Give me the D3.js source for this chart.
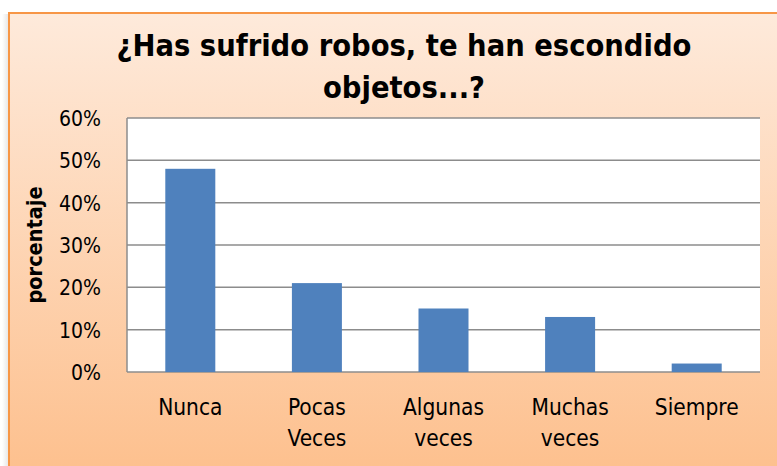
<!DOCTYPE html>
<html><head><meta charset="utf-8">
<script src="https://cdn.jsdelivr.net/npm/d3@7"></script>
<style>body{margin:0;background:#fff}svg{display:block}</style>
</head><body>
<svg id="c" width="777" height="466"></svg>
<script>
const categories = [["Nunca"], ["Pocas", "Veces"], ["Algunas", "veces"], ["Muchas", "veces"], ["Siempre"]];
const values = [0.48, 0.21, 0.15, 0.13, 0.02];
const yTicks = [0, 0.1, 0.2, 0.3, 0.4, 0.5, 0.6];
const titleLines = ["¿Has sufrido robos, te han escondido", "objetos...?"];
const yTitle = "porcentaje";

const svg = d3.select("#c");
const defs = svg.append("defs");
const g = defs.append("linearGradient").attr("id","bg").attr("x1",0).attr("y1",0).attr("x2",0).attr("y2",1);
g.append("stop").attr("offset","0%").attr("stop-color","#FEEADB");
g.append("stop").attr("offset","100%").attr("stop-color","#FDBF8C");
const sh = defs.append("linearGradient").attr("id","sh").attr("x1",0).attr("x2",1);
sh.append("stop").attr("offset","0%").attr("stop-color","#fff");
sh.append("stop").attr("offset","100%").attr("stop-color","#e4e4e4");

svg.append("rect").attr("x",2).attr("y",14).attr("width",7).attr("height",460).attr("fill","url(#sh)");
svg.append("rect").attr("x",9).attr("y",13).attr("width",780).attr("height",470)
  .attr("fill","url(#bg)").attr("stroke","#F79646").attr("stroke-width",2);

const font = "'DejaVu Sans Condensed','Open Sans',sans-serif";
const L = 127, R = 760, T = 118, B = 372;
const x = d3.scaleBand().domain(d3.range(categories.length)).range([L, R]).padding(0);
const y = d3.scaleLinear().domain([0, 0.6]).range([B, T]);

svg.append("rect").attr("x",L).attr("y",T).attr("width",R-L).attr("height",B-T).attr("fill","#fff");

svg.append("g").selectAll("line").data(yTicks).join("line")
  .attr("x1",L).attr("x2",R).attr("y1",d=>y(d)).attr("y2",d=>y(d))
  .attr("stroke","#8c8c8c").attr("stroke-width",1.5);

const bw = x.bandwidth()*0.395;
svg.append("g").selectAll("rect").data(values).join("rect")
  .attr("x",(d,i)=>x(i)+x.bandwidth()/2-bw/2).attr("width",bw)
  .attr("y",d=>y(d)).attr("height",d=>B-y(d)).attr("fill","#4F81BD");

svg.append("line").attr("x1",L).attr("x2",L).attr("y1",T).attr("y2",B)
  .attr("stroke","#8c8c8c").attr("stroke-width",1.5);

const yAxis = d3.axisLeft(y).tickValues(yTicks).tickFormat(d3.format(".0%")).tickSize(0).tickPadding(0);
const ya = svg.append("g").attr("transform",`translate(${101},0)`).call(yAxis);
ya.select(".domain").remove();
ya.selectAll("text").attr("font-family",font).attr("font-size",21).attr("fill","#000").attr("dy","0.35em");

categories.forEach((lines,i)=>{
  const t = svg.append("text").attr("x",x(i)+x.bandwidth()/2).attr("y",415)
    .attr("text-anchor","middle").attr("font-family",font).attr("font-size",22.5).attr("fill","#000");
  lines.forEach((s,j)=>t.append("tspan").attr("x",x(i)+x.bandwidth()/2).attr("dy",j?31:0).text(s));
});

titleLines.forEach((s,i)=>{
  svg.append("text").attr("x",404).attr("y",56+i*42).attr("text-anchor","middle")
    .attr("font-family",font).attr("font-weight","bold").attr("font-size",30.5).attr("fill","#000").text(s);
});

svg.append("text").attr("transform","translate(42,245) rotate(-90)").attr("text-anchor","middle")
  .attr("font-family",font).attr("font-weight","bold").attr("font-size",21.5).attr("fill","#000").text(yTitle);
</script>
</body></html>
